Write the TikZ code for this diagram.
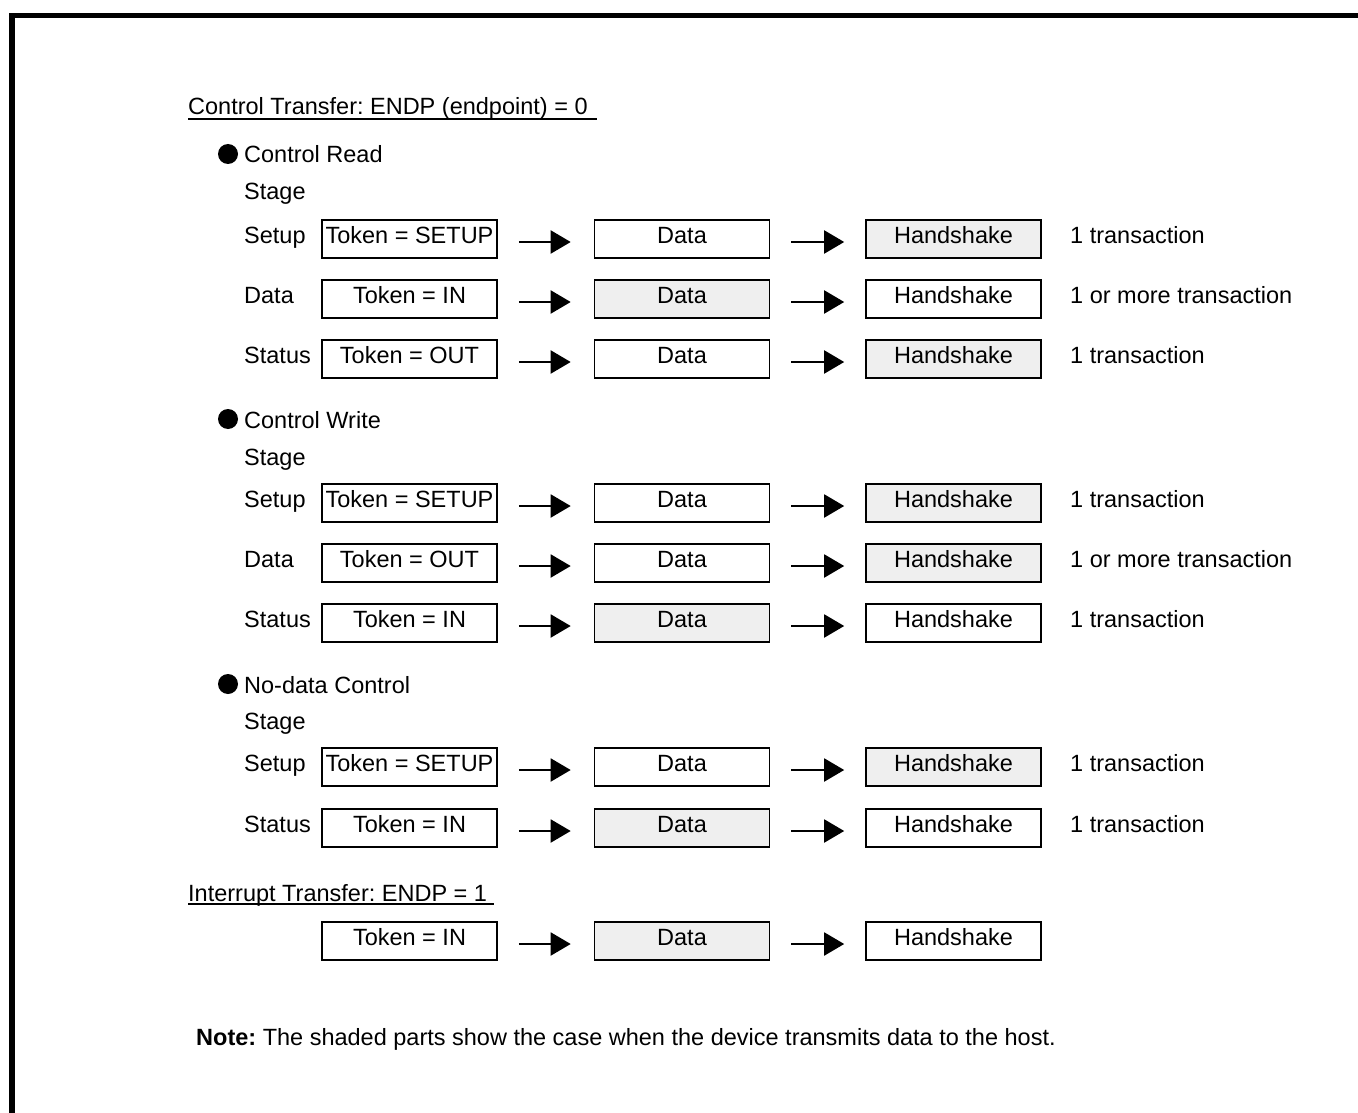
\documentclass[tikz,border=0pt]{standalone}
\usepackage{fontspec}
\setmainfont{Liberation Sans}
\usetikzlibrary{arrows.meta}
\definecolor{shade}{RGB}{239,239,239}
\frenchspacing
\newcommand{\trow}[7]{%
  \node[box] (#1t) at (409.5,#2) {#4};
  \node[box,#5] (#1d) at (682,#2) {Data};
  \node[box,#6] (#1h) at (953.5,#2) {Handshake};
  \draw[arr,shorten <=21pt,shorten >=23pt] ([yshift=-3pt]#1t.east) -- ([yshift=-3pt]#1d.west);
  \draw[arr,shorten <=21pt,shorten >=21pt] ([yshift=-3pt]#1d.east) -- ([yshift=-3pt]#1h.west);
  \node[lbl] (#1l) at (244,{#2+4}) {#3};
  \node[lbl] (#1r) at (1070,{#2+4}) {#7};
}
\begin{document}
\begin{tikzpicture}[x=1pt,y=-1pt,
  every node/.style={font=\fontsize{23.5}{28}\selectfont},
  box/.style={draw,line width=1.6pt,minimum width=175pt,minimum height=38pt,inner sep=0pt,text height=17pt,text depth=9pt},
  sh/.style={fill=shade},
  nofill/.style={},
  arr/.style={line width=2pt,-{Triangle[length=20pt,width=23pt]}},
  lbl/.style={anchor=base west,inner sep=0pt},
  bul/.style={circle,fill=black,inner sep=0pt,minimum size=20pt},
  uline/.style={line width=1.5pt}]
\useasboundingbox (0,0) rectangle (1358,1113);
\fill[white] (0,0) rectangle (1358,1113);
% frame
\draw[line width=5.5pt] (12,1113) -- (12,15.5) -- (1358,15.5);

% headings
\node[lbl] (h1) at (188,115) {Control Transfer: ENDP (endpoint) = 0};
\draw[uline] ([yshift=-4pt]h1.base west) -- ++(409,0);

\node[bul] (b1) at (228,154) {};
\node[lbl] (s1) at (244,163) {Control Read};
\node[lbl] (g1) at (244,200) {Stage};
\trow{a}{239}{Setup}{Token = SETUP}{nofill}{sh}{1 transaction}
\trow{b}{299}{Data}{Token = IN}{sh}{nofill}{1 or more transaction}
\trow{c}{359}{Status}{Token = OUT}{nofill}{sh}{1 transaction}

\node[bul] (b2) at (228,419) {};
\node[lbl] (s2) at (244,428) {Control Write};
\node[lbl] (g2) at (244,465) {Stage};
\trow{d}{503}{Setup}{Token = SETUP}{nofill}{sh}{1 transaction}
\trow{e}{563}{Data}{Token = OUT}{nofill}{sh}{1 or more transaction}
\trow{f}{623}{Status}{Token = IN}{sh}{nofill}{1 transaction}

\node[bul] (b3) at (228,684) {};
\node[lbl] (s3) at (244,693) {No-data Control};
\node[lbl] (g3) at (244,729) {Stage};
\trow{g}{767}{Setup}{Token = SETUP}{nofill}{sh}{1 transaction}
\trow{h}{828}{Status}{Token = IN}{sh}{nofill}{1 transaction}

\node[lbl] (h2) at (188,901) {Interrupt Transfer: ENDP = 1};
\draw[uline] ([yshift=-3pt]h2.base west) -- ++(306,0);

\node[box] (it) at (409.5,941) {Token = IN};
\node[box,sh] (id) at (682,941) {Data};
\node[box] (ih) at (953.5,941) {Handshake};
\draw[arr,shorten <=21pt,shorten >=23pt] ([yshift=-3pt]it.east) -- ([yshift=-3pt]id.west);
\draw[arr,shorten <=21pt,shorten >=21pt] ([yshift=-3pt]id.east) -- ([yshift=-3pt]ih.west);

\node[lbl] (note) at (196,1045) {\textbf{Note:} The shaded parts show the case when the device transmits data to the host.};
\end{tikzpicture}
\end{document}
